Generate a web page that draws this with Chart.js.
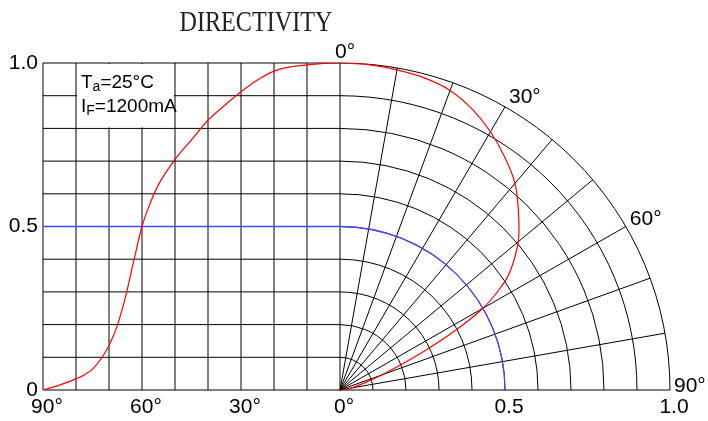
<!DOCTYPE html>
<html>
<head>
<meta charset="utf-8">
<title>Directivity</title>
<script src="https://cdn.jsdelivr.net/npm/chart.js@4.4.1/dist/chart.umd.min.js"></script>
<style>
  html, body { margin: 0; padding: 0; background: #fff; }
  #wrap { width: 708px; height: 421px; position: relative; }
</style>
</head>
<body>
<div id="wrap"><canvas id="myChart"></canvas></div>
<script>
"use strict";
// angle (deg) / relative intensity
const angles = [0, 5, 10, 15, 20, 25, 30, 35, 40, 45, 50, 55, 57.5, 60, 62.5, 65, 67.5, 70, 72.5, 75, 77.5, 80, 85, 90];
const intensity = [1.0, 0.999, 0.994, 0.988, 0.975, 0.948, 0.912, 0.87, 0.825, 0.765, 0.705, 0.628, 0.572, 0.50, 0.395, 0.285, 0.197, 0.136, 0.094, 0.064, 0.046, 0.034, 0.015, 0];

// left half: angle/100 to the left of 0, right half: polar radius
const xTickValues = [-0.9, -0.6, -0.3, 0, 0.5, 1.0];
const yTickValues = [0, 0.5, 1.0];
const polarLabelAngles = [0, 30, 60, 90];
const halfLevel = 0.5;

const sansFamily = "'Liberation Sans', Arial, sans-serif";
const red = '#ff0000';
const blue = '#4848ff';

const rad = (a) => a * Math.PI / 180;

function xTickLabel(v) {
  if (v <= 0) return Math.round(-v * 100) + '°';
  return v.toFixed(1);
}

// cartesian part, ordered left to right
const cartesianData = angles.map((a, i) => ({ x: -a / 100, y: intensity[i] })).reverse();
// polar part
const polarData = angles.map((a, i) => ({ x: intensity[i] * Math.sin(rad(a)), y: intensity[i] * Math.cos(rad(a)) }));

const gridPlugin = {
  id: 'polarGrid',
  beforeDatasetsDraw(chart) {
    const ctx = chart.ctx;
    const x = chart.scales.x, y = chart.scales.y;
    const px = (v) => x.getPixelForValue(v);
    const py = (v) => y.getPixelForValue(v);
    const cx = px(0), cy = py(0);
    ctx.save();
    ctx.lineWidth = 1;
    ctx.strokeStyle = '#000';
    ctx.beginPath();
    for (let a = 10; a <= 90; a += 10) {
      ctx.moveTo(px(-a / 100), py(0));
      ctx.lineTo(px(-a / 100), py(1));
    }
    for (let i = 1; i <= 10; i++) {
      ctx.moveTo(px(-0.9), py(i / 10));
      ctx.lineTo(cx, py(i / 10));
    }
    ctx.moveTo(px(-0.9), cy);
    ctx.lineTo(px(1), cy);
    for (let a = 0; a < 90; a += 10) {
      ctx.moveTo(cx, cy);
      ctx.lineTo(px(Math.sin(rad(a))), py(Math.cos(rad(a))));
    }
    ctx.stroke();
    for (let i = 1; i <= 10; i++) {
      const r = i / 10;
      ctx.beginPath();
      ctx.ellipse(cx, cy, px(r) - cx, cy - py(r), 0, -Math.PI / 2, 0);
      ctx.stroke();
    }
    // white box behind the conditions text
    ctx.fillStyle = '#fff';
    ctx.fillRect(px(-0.8) + 1, py(1) + 1, px(-0.5) - px(-0.8) - 2, py(0.8) - py(1) - 2);

    // 50% level
    ctx.strokeStyle = blue;
    ctx.lineWidth = 1.3;
    ctx.beginPath();
    ctx.moveTo(px(-0.9), py(halfLevel));
    ctx.lineTo(cx, py(halfLevel));
    ctx.ellipse(cx, cy, px(halfLevel) - cx, cy - py(halfLevel), 0, -Math.PI / 2, 0);
    ctx.stroke();
    ctx.restore();
  },
  afterDraw(chart) {
    const ctx = chart.ctx;
    const x = chart.scales.x, y = chart.scales.y;
    const px = (v) => x.getPixelForValue(v);
    const py = (v) => y.getPixelForValue(v);
    const area = chart.chartArea;
    ctx.save();

    // title
    ctx.fillStyle = '#222';
    ctx.font = "29px 'Liberation Serif', serif";
    ctx.textAlign = 'center';
    ctx.textBaseline = 'alphabetic';
    const tw = ctx.measureText('DIRECTIVITY').width;
    ctx.translate(256, 31);
    ctx.scale(153 / tw, 1);
    ctx.fillText('DIRECTIVITY', 0, 0);
    ctx.setTransform(1, 0, 0, 1, 0, 0);

    // conditions
    ctx.fillStyle = '#000';
    ctx.textAlign = 'left';
    const lines = [
      [['T', false], ['a', true], ['=25°C', false]],
      [['I', false], ['F', true], ['=1200mA', false]]
    ];
    lines.forEach((parts, li) => {
      let tx = area.left + 38;
      const ty = area.top + 25 + li * 23.5;
      parts.forEach(([t, sub]) => {
        ctx.font = (sub ? '14px ' : '19px ') + sansFamily;
        ctx.fillText(t, tx, sub ? ty + 3 : ty);
        tx += ctx.measureText(t).width;
      });
    });

    // polar angle labels
    ctx.font = '21px ' + sansFamily;
    polarLabelAngles.forEach((a) => {
      const lx = px(Math.sin(rad(a)));
      const ly = py(Math.cos(rad(a)));
      if (a === 0) {
        ctx.textAlign = 'center';
        ctx.fillText(a + '°', lx + 5, ly - 5);
      } else {
        ctx.textAlign = 'left';
        ctx.fillText(a + '°', lx + 4, ly + 2 - 7 * Math.cos(rad(a)));
      }
    });
    ctx.restore();
  }
};

const myChart = new Chart(document.getElementById('myChart'), {
  type: 'scatter',
  plugins: [gridPlugin],
  data: {
    datasets: [{
      label: 'cartesian',
      data: cartesianData,
      showLine: true,
      borderColor: red,
      borderWidth: 1.2,
      pointRadius: 0,
      cubicInterpolationMode: 'monotone'
    }, {
      label: 'polar',
      data: polarData,
      showLine: true,
      borderColor: red,
      borderWidth: 1.2,
      pointRadius: 0,
      tension: 0.35
    }]
  },
  options: {
    responsive: true,
    maintainAspectRatio: false,
    animation: false,
    layout: { padding: { top: 63, right: 38, left: 0, bottom: 0 } },
    plugins: {
      legend: { display: false },
      tooltip: { enabled: false }
    },
    scales: {
      x: {
        type: 'linear',
        min: -0.9,
        max: 1.0,
        afterBuildTicks: (scale) => { scale.ticks = xTickValues.map((v) => ({ value: v })); },
        afterFit: (scale) => { scale.height = 31; },
        grid: { display: false, drawTicks: false },
        border: { display: false },
        ticks: {
          autoSkip: false,
          maxRotation: 0,
          padding: 5,
          labelOffset: 4,
          color: '#000',
          font: { family: sansFamily, size: 21 },
          callback: (v) => xTickLabel(v)
        }
      },
      y: {
        type: 'linear',
        min: 0,
        max: 1.0,
        afterBuildTicks: (scale) => { scale.ticks = yTickValues.map((v) => ({ value: v })); },
        afterFit: (scale) => { scale.width = 43; },
        grid: { display: false, drawTicks: false },
        border: { display: false },
        ticks: {
          padding: 5,
          color: '#000',
          font: { family: sansFamily, size: 21 },
          callback: (v) => (v === 0 ? '0' : v.toFixed(1))
        }
      }
    }
  }
});
</script>
</body>
</html>
